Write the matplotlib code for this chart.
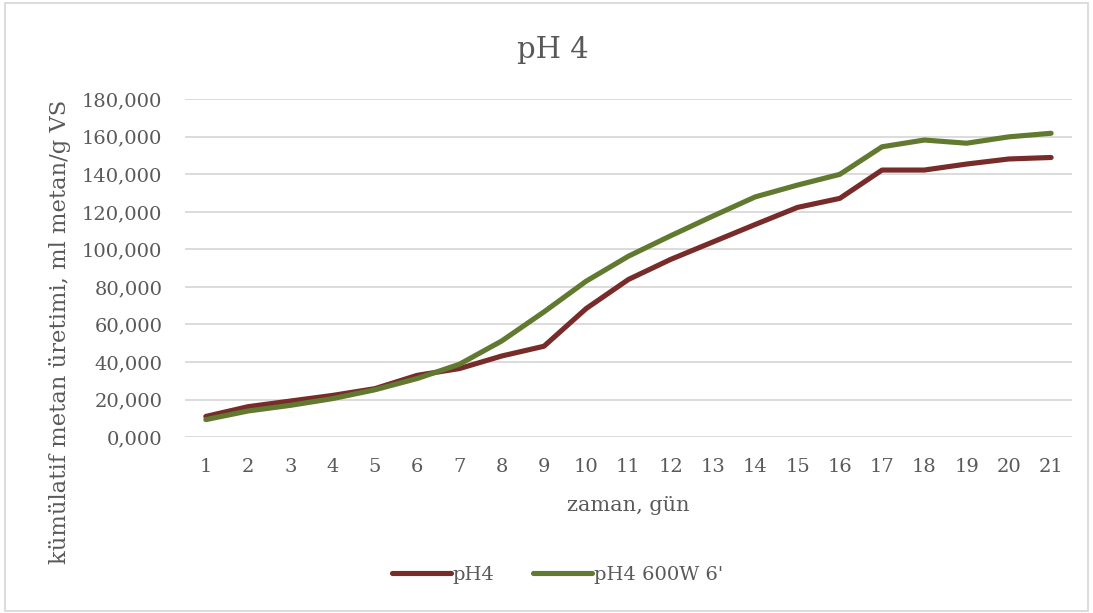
import numpy as np
import matplotlib
matplotlib.use('Agg')
import matplotlib.pyplot as plt
from matplotlib.patches import Rectangle
from matplotlib.ticker import FuncFormatter

plt.rcParams['font.family'] = ['DejaVu Serif']

# kümülatif metan üretimi, ml metan/g VS
days = list(range(1, 22))
ph4 = [11.0, 16.2, 19.2, 22.2, 25.8, 32.9, 36.5, 43.2, 48.4, 68.5, 84.0,
       94.7, 104.0, 113.3, 122.4, 127.2, 142.3, 142.3, 145.5, 148.2, 149.0]
ph4_mw = [9.3, 13.9, 16.9, 20.5, 25.2, 31.2, 38.8, 51.2, 66.7, 83.1, 96.4,
          107.3, 117.8, 128.0, 134.3, 140.0, 154.7, 158.3, 156.6, 160.0, 161.9]
ph4 = [v * 1000 for v in ph4]
ph4_mw = [v * 1000 for v in ph4_mw]

text_c = '#595959'
grid_c = '#d9d9d9'

fig = plt.figure(figsize=(10.93, 6.13), dpi=100)
ax = fig.add_axes([0.169, 0.287, 0.812, 0.551])

ax.plot(days, ph4, color='#772c2a', lw=3.7, solid_capstyle='round',
        solid_joinstyle='round', label='pH4')
ax.plot(days, ph4_mw, color='#617a30', lw=3.7, solid_capstyle='round',
        solid_joinstyle='round', label="pH4 600W 6'")

ax.set_xlim(0.5, 21.5)
ax.set_ylim(0, 180000)
ax.set_xticks(days)
ax.set_yticks(np.arange(0, 180001, 20000))
ax.yaxis.set_major_formatter(
    FuncFormatter(lambda v, p: f'{v/1000:.0f},000' if v else '0,000'))
ax.grid(axis='y', color=grid_c, lw=1.3)
ax.set_axisbelow(True)
for s in ax.spines.values():
    s.set_visible(False)
ax.tick_params(length=0, labelsize=14, colors=text_c)
ax.tick_params(axis='y', pad=16)
ax.tick_params(axis='x', pad=15)

fig.text(0.506, 0.918, 'pH 4', fontsize=21, color=text_c,
         ha='center', va='center')
ax.set_xlabel('zaman, gün', fontsize=15, color=text_c)
ax.xaxis.set_label_coords(0.5, -0.175)
ax.set_ylabel('kümülatif metan üretimi, ml metan/g VS', fontsize=16.3,
              color=text_c)
ax.yaxis.set_label_coords(-0.128, 0.31)

leg = fig.legend(loc='center', bbox_to_anchor=(0.51, 0.062), ncol=2,
                 frameon=False, fontsize=14, handlelength=3.0,
                 handletextpad=0.1, columnspacing=2.0)
for t in leg.get_texts():
    t.set_color(text_c)

fig.patches.append(Rectangle((0.005, 0.003), 0.99, 0.992,
                             transform=fig.transFigure, fill=False,
                             edgecolor=grid_c, lw=1.3))

fig.savefig('out.png', dpi=100)
